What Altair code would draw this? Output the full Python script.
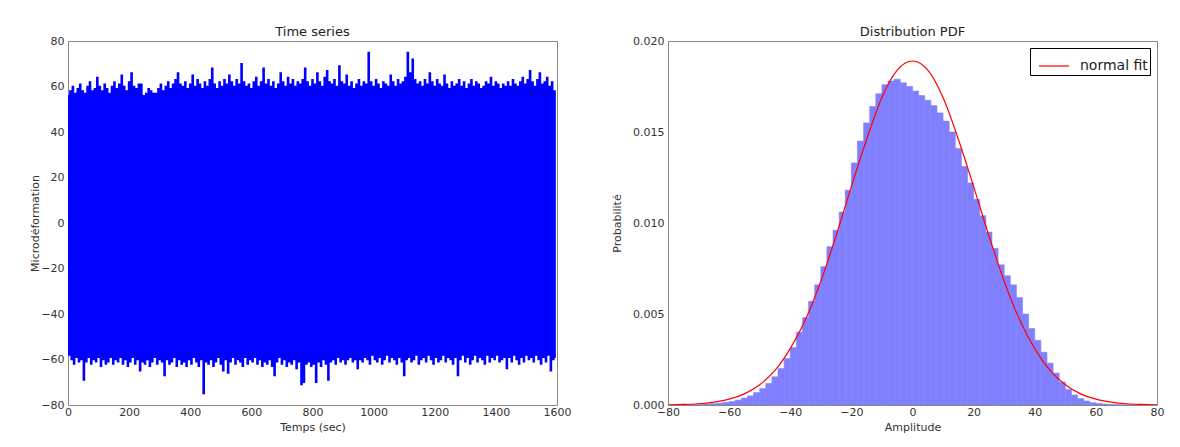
import altair as alt
import pandas as pd

# ---------------- Time series: upper peaks / lower troughs (every 8 s) ----------------
peak_hi = [
    56, 58, 60, 57, 59, 61, 58, 57, 60, 62, 58, 59, 64, 60, 58, 61, 59, 57, 60, 62,
    59, 61, 65, 60, 58, 62, 66, 60, 59, 61, 61, 56, 57, 59, 58, 57, 57, 59, 61, 58,
    60, 62, 59, 61, 63, 66, 61, 60, 62, 59, 61, 65, 60, 63, 61, 59, 62, 60, 63, 68,
    61, 59, 62, 60, 63, 61, 65, 62, 60, 63, 61, 70, 62, 60, 61, 59, 62, 64, 60, 62,
    68, 61, 63, 60, 62, 59, 61, 66, 62, 60, 64, 61, 63, 60, 62, 61, 63, 68, 62, 60,
    63, 61, 66, 62, 60, 64, 67, 62, 61, 63, 60, 69, 62, 61, 65, 60, 62, 59, 61, 63,
    60, 62, 61, 75, 62, 60, 63, 61, 59, 62, 61, 60, 65, 62, 60, 63, 61, 62, 64, 75,
    66, 72, 63, 61, 62, 60, 63, 61, 66, 62, 60, 63, 61, 60, 65, 61, 59, 62, 60, 61,
    63, 60, 62, 59, 61, 63, 60, 62, 61, 59, 60, 62, 61, 64, 60, 62, 61, 59, 61, 60,
    62, 60, 63, 61, 60, 62, 64, 61, 63, 67, 62, 60, 63, 66, 61, 62, 64, 60, 62, 58,
]
peak_lo = [
    -58, -60, -62, -59, -61, -60, -69, -61, -59, -62, -60, -61, -59, -63, -60, -62, -61, -59, -62, -60,
    -61, -59, -62, -60, -63, -61, -59, -62, -60, -65, -61, -62, -60, -63, -61, -59, -62, -60, -61, -67,
    -60, -62, -61, -59, -63, -60, -62, -61, -63, -60, -62, -59, -61, -63, -60, -75, -61, -62, -60, -63,
    -61, -59, -62, -65, -60, -66, -61, -59, -62, -60, -61, -63, -59, -62, -60, -61, -59, -62, -60, -63,
    -61, -62, -60, -63, -67, -61, -59, -62, -60, -63, -61, -62, -60, -64, -61, -71, -70, -62, -61, -63,
    -62, -70, -61, -63, -60, -62, -69, -61, -60, -62, -59, -61, -60, -62, -60, -59, -61, -60, -64, -60,
    -61, -59, -60, -62, -58, -60, -61, -59, -62, -60, -58, -61, -59, -60, -62, -59, -61, -67, -60, -59,
    -61, -60, -58, -62, -60, -59, -61, -58, -60, -62, -59, -61, -60, -58, -61, -59, -60, -62, -59, -67,
    -60, -58, -61, -59, -62, -60, -58, -61, -59, -60, -62, -58, -61, -59, -60, -58, -61, -60, -59, -64,
    -59, -61, -58, -60, -62, -59, -61, -58, -60, -59, -61, -58, -60, -62, -59, -61, -58, -65, -60, -59,
]
step_sec = 8

# ---------------- Histogram (bin centres, width 2) ----------------
bin_centers = list(range(-75, 76, 2))
bin_density = [
    0.00001, 0.00001, 0.00002, 0.00003, 0.00005, 0.00007, 0.00010, 0.00014, 0.00019, 0.00027,
    0.00038, 0.00050, 0.00068, 0.00090, 0.00118, 0.00155, 0.00200, 0.00255, 0.00315, 0.00400,
    0.00480, 0.00570, 0.00660, 0.00760, 0.00870, 0.00960, 0.01060, 0.01180, 0.01330, 0.01450,
    0.01550, 0.01640, 0.01710, 0.01760, 0.01780, 0.01790, 0.01770, 0.01750, 0.01725, 0.01700,
    0.01675, 0.01645, 0.01605, 0.01560, 0.01500, 0.01410, 0.01310, 0.01220, 0.01130, 0.01040,
    0.00950, 0.00860, 0.00770, 0.00710, 0.00660, 0.00590, 0.00500, 0.00420, 0.00355, 0.00290,
    0.00230, 0.00175, 0.00125, 0.00085, 0.00055, 0.00035, 0.00022, 0.00013, 0.00008, 0.00005,
    0.00003, 0.00002, 0.00001, 0.00001, 0.00001, 0.00001,
]
bin_width = 2

# ---------------- Normal fit curve (read every 5 units) ----------------
fit_x = list(range(-80, 81, 5))
fit_y = [
    0.00001, 0.00003, 0.00007, 0.00016, 0.00032, 0.00061, 0.00111, 0.00190, 0.00310, 0.00470,
    0.00680, 0.00930, 0.01200, 0.01460, 0.01690, 0.01840, 0.01890, 0.01840, 0.01690, 0.01460,
    0.01200, 0.00930, 0.00680, 0.00470, 0.00310, 0.00190, 0.00111, 0.00061, 0.00032, 0.00016,
    0.00007, 0.00003, 0.00001,
]

# ---------------- Build tables ----------------
rows = []
for i, (h, l) in enumerate(zip(peak_hi, peak_lo)):
    rows.append({"t": i * step_sec, "v": h})
    rows.append({"t": i * step_sec + step_sec / 2, "v": l})
ts_df = pd.DataFrame(rows)

hist_df = pd.DataFrame({
    "x0": [c - bin_width / 2 for c in bin_centers],
    "x1": [c + bin_width / 2 for c in bin_centers],
    "d": bin_density[:len(bin_centers)],
})
fit_df = pd.DataFrame({"x": fit_x, "y": fit_y, "lab": ["normal fit"] * len(fit_x)})

W, H = 489, 364
FONT = "DejaVu Sans"

left = alt.Chart(ts_df, title=alt.TitleParams("Time series", dy=8)).mark_line(
    color="#0000ff", strokeWidth=1.4, interpolate="step", clip=True
).encode(
    x=alt.X("t:Q", scale=alt.Scale(domain=[0, 1600], nice=False, padding=0, zero=False),
            axis=alt.Axis(values=list(range(0, 1601, 200)), format="d", title="Temps (sec)")),
    y=alt.Y("v:Q", scale=alt.Scale(domain=[-80, 80], nice=False, padding=0),
            axis=alt.Axis(values=list(range(-80, 81, 20)), title="Microdéformation",
                          titlePadding=0)),
    order="t:Q",
).properties(width=W, height=H)

bars = alt.Chart(hist_df).mark_bar(color="#8080ff", stroke="#8080ff", strokeWidth=0.6, clip=True).encode(
    x=alt.X("x0:Q", scale=alt.Scale(domain=[-80, 80], nice=False, padding=0),
            axis=alt.Axis(values=list(range(-80, 81, 20)), title="Amplitude")),
    x2="x1:Q",
    y=alt.Y("d:Q", scale=alt.Scale(domain=[0, 0.02], nice=False, padding=0),
            axis=alt.Axis(values=[0, 0.005, 0.01, 0.015, 0.02], format=".3f", title="Probabilité",
                          titlePadding=10)),
    y2=alt.datum(0),
)

fit = alt.Chart(fit_df).mark_line(strokeWidth=1.2, interpolate="monotone", clip=True).encode(
    x="x:Q",
    y="y:Q",
    color=alt.Color("lab:N", scale=alt.Scale(domain=["normal fit"], range=["#ff0000"]),
                    legend=alt.Legend(title=None, orient="top-right", symbolType="M-1,0H1",
                                      symbolSize=900, symbolStrokeWidth=1.2, symbolOffset=6,
                                      symbolFillColor="transparent",
                                      strokeColor="#000", fillColor="white", padding=2,
                                      labelFont=FONT, labelFontSize=14, labelColor="#222",
                                      labelOffset=10, offset=7)),
)

right = alt.layer(bars, fit, title=alt.TitleParams("Distribution PDF", dy=8)).properties(width=W, height=H)

chart = alt.hconcat(left, right, spacing=39).resolve_legend(color="independent").properties(
    padding={"left": 21, "top": 17, "right": 5, "bottom": 5}
).configure_view(stroke="#888", strokeWidth=1).configure_axis(
    domain=False, grid=False, ticks=False, labelFlush=False,
    labelFont=FONT, labelFontSize=11, labelColor="#333",
    titleFont=FONT, titleFontSize=11, titleFontWeight="normal", titleColor="#333",
).configure_axisX(labelPadding=1, titlePadding=4).configure_axisY(
    labelPadding=4
).configure_title(
    font=FONT, fontSize=13, fontWeight="normal", color="#222", offset=0
)

chart.save("out.html", embed_options={"renderer": "svg", "actions": False})
